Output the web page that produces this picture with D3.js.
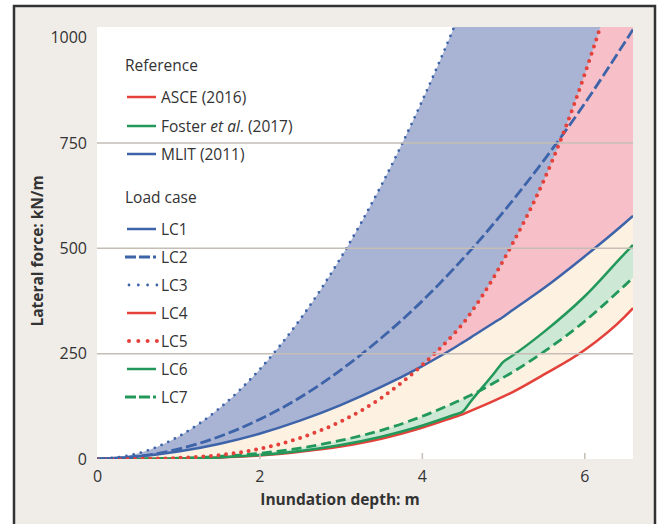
<!DOCTYPE html>
<html>
<head>
<meta charset="utf-8">
<script src="https://cdn.jsdelivr.net/npm/d3@7"></script>
<style>
  body { margin: 0; background: #fff; }
  text { font-family: 'Open Sans', 'Noto Sans', sans-serif; fill: #333; }
</style>
</head>
<body>
<div id="chart"></div>
<script>
// inundation depth (m) and lateral force (kN/m) per load case
var depth = [0, 0.5, 1, 1.5, 2, 2.5, 3, 3.5, 4, 4.4, 4.5, 4.6, 4.9, 5, 5.1, 5.5, 6, 6.5, 6.6];
var lc1 = [0, 5.7, 17.6, 35.8, 60, 91, 128, 171, 220, 264, 276, 288, 325, 337, 351, 405, 480, 560, 577];
var lc2 = [0, 5.9, 23.4, 52.7, 93.6, 146, 211, 287, 374, 453, 474, 495, 562, 585, 609, 708, 842, 989, 1019];
var lc3 = [0, 13, 53, 119, 212, 331, 477, 649, 848, 1026, 1073, 1121, 1273, 1325, 1379, 1603, 1908, 2239, 2309];
var lc4 = [0, 0.1, 0.9, 3.2, 8, 17, 29.5, 48, 74, 99.5, 106, 114, 139, 148, 157, 200, 258, 338, 358];
var lc5 = [0, 0.3, 2.5, 9, 24, 50, 89, 145, 222, 298, 320, 346, 436, 470, 505, 660, 910, 1230, 1310];
var lc6 = [0, 0.15, 1.1, 3.8, 9.3, 19, 33, 53, 79, 105, 112, 136, 206, 230, 243, 301, 385, 488, 508];
var lc7 = [0, 0.25, 1.8, 5.9, 13.5, 26, 44, 68, 101, 133.5, 142, 151, 182, 193, 204, 254, 326, 412, 430];

var xTicks = [0, 2, 4, 6];
var yTicks = [0, 250, 500, 750, 1000];
var gridValues = [250, 500, 750];

var refItems = ['ASCE (2016)', 'Foster et al. (2017)', 'MLIT (2011)'];
var caseItems = ['LC1', 'LC2', 'LC3', 'LC4', 'LC5', 'LC6', 'LC7'];

var BLUE = '#3d63a9', RED = '#e3413a', GREEN = '#22985a';

var width = 662, height = 524;
var margin = { top: 27, right: 29, bottom: 65, left: 97 };
var innerWidth = width - margin.left - margin.right,
    innerHeight = height - margin.top - margin.bottom;

var svg = d3.select('#chart').append('svg')
  .attr('width', width)
  .attr('height', height);

// panel: fill plus a border open at the bottom
svg.append('rect')
  .attr('x', 14).attr('y', 6)
  .attr('width', 641).attr('height', height - 6)
  .attr('fill', '#f0ede9');
svg.append('path')
  .attr('d', 'M14,' + height + 'V6H655V' + height)
  .attr('fill', 'none')
  .attr('stroke', '#333')
  .attr('stroke-width', 2.5);

var g = svg.append('g')
  .attr('transform', 'translate(' + margin.left + ',' + margin.top + ')');

var x = d3.scaleLinear().domain([0, 6.6]).range([0, innerWidth]);
var y = d3.scaleLinear().domain([0, 1025]).range([innerHeight, 0]);

g.append('rect')
  .attr('width', innerWidth).attr('height', innerHeight)
  .attr('fill', '#fff');

g.append('clipPath').attr('id', 'plotclip')
  .append('rect').attr('width', innerWidth).attr('height', innerHeight);

var plot = g.append('g').attr('clip-path', 'url(#plotclip)');

function rows(lo, hi) {
  return depth.map(function(d, i) { return { h: d, lo: lo[i], hi: hi[i] }; });
}

function band(lo, hi, color) {
  plot.append('path')
    .datum(rows(lo, hi))
    .attr('fill', color)
    .attr('d', d3.area()
      .curve(d3.curveMonotoneX)
      .x(function(d) { return x(d.h); })
      .y0(function(d) { return y(d.lo); })
      .y1(function(d) { return y(d.hi); }));
}

band(lc1, lc3, '#a9b3d4');
band(lc4, lc5, '#f7c0c8');
band(lc4, lc1, '#fdf1e2');
band(lc7, lc6, '#cde8d5');

// grid
g.selectAll('.grid')
  .data(gridValues)
  .enter()
  .append('line')
  .attr('class', 'grid')
  .attr('x1', 0).attr('x2', innerWidth)
  .attr('y1', function(d) { return y(d); })
  .attr('y2', function(d) { return y(d); })
  .attr('stroke', '#c6beb6')
  .attr('stroke-width', 1.5);

var series = [
  { values: lc4, color: RED, width: 2.5, dash: null, cap: 'butt' },
  { values: lc7, color: GREEN, width: 2.8, dash: '10,5', cap: 'butt' },
  { values: lc6, color: GREEN, width: 2.5, dash: null, cap: 'butt' },
  { values: lc1, color: BLUE, width: 2.5, dash: null, cap: 'butt' },
  { values: lc2, color: BLUE, width: 2.8, dash: '11,4', cap: 'butt' },
  { values: lc5, color: RED, width: 4, dash: '0,7.6', cap: 'round' },
  { values: lc3, color: BLUE, width: 2.8, dash: '0,7.4', cap: 'round' }
];

series.forEach(function(s) {
  plot.append('path')
    .datum(s.values)
    .attr('fill', 'none')
    .attr('stroke', s.color)
    .attr('stroke-width', s.width)
    .attr('stroke-dasharray', s.dash)
    .attr('stroke-linecap', s.cap)
    .attr('d', d3.line()
      .curve(d3.curveMonotoneX)
      .x(function(d, i) { return x(depth[i]); })
      .y(function(d) { return y(d); }));
});

// axes (ticks inside, no domain line)
var xAxis = g.append('g')
  .attr('transform', 'translate(0,' + innerHeight + ')')
  .call(d3.axisBottom(x).tickValues(xTicks).tickSize(-6).tickPadding(12).tickFormat(d3.format('d')));
xAxis.select('.domain').remove();
xAxis.selectAll('.tick line').attr('stroke', '#c6beb6').attr('stroke-width', 1.5)
  .filter(function(d) { return d === 0; }).remove();
xAxis.selectAll('text').attr('font-size', 16).attr('fill', '#333');

var yAxis = g.append('g')
  .call(d3.axisLeft(y).tickValues(yTicks).tickSize(0).tickPadding(10).tickFormat(d3.format('d')));
yAxis.select('.domain').remove();
yAxis.selectAll('text').attr('font-size', 16).attr('fill', '#333');

svg.append('text')
  .attr('x', 340).attr('y', 505)
  .attr('text-anchor', 'middle')
  .attr('font-size', 15.5)
  .attr('font-weight', 'bold')
  .text('Inundation depth: m');

svg.append('text')
  .attr('transform', 'translate(43,251) rotate(-90)')
  .attr('text-anchor', 'middle')
  .attr('font-size', 15.5)
  .attr('font-weight', 'bold')
  .text('Lateral force: kN/m');

// legend
var legend = svg.append('g');
legend.append('text').attr('x', 125).attr('y', 71).attr('font-size', 15.5).text('Reference');
legend.append('text').attr('x', 125).attr('y', 203).attr('font-size', 15.5).text('Load case');

var refColors = [RED, GREEN, BLUE];
var refY = [97, 126, 154];

refItems.forEach(function(label, i) {
  legend.append('line')
    .attr('x1', 127).attr('x2', 156)
    .attr('y1', refY[i]).attr('y2', refY[i])
    .attr('stroke', refColors[i]).attr('stroke-width', 2.5);
  var t = legend.append('text').attr('x', 161).attr('y', refY[i] + 5.5).attr('font-size', 15.5);
  if (label.indexOf('et al.') >= 0) {
    t.append('tspan').text('Foster ');
    t.append('tspan').attr('font-style', 'italic').text('et al');
    t.append('tspan').text('. (2017)');
  } else {
    t.text(label);
  }
});

var caseY = d3.scalePoint().domain(caseItems).range([229, 397]);
var caseStyle = [series[3], series[4], series[6], series[0], series[5], series[2], series[1]];

caseItems.forEach(function(label, i) {
  var s = caseStyle[i];
  var yy = caseY(label);
  var dots = s.cap === 'round';
  legend.append('line')
    .attr('x1', dots ? 129 : (s.dash ? 125 : 127)).attr('x2', dots ? 157 : 156)
    .attr('y1', yy).attr('y2', yy)
    .attr('stroke', s.color)
    .attr('stroke-width', s.width)
    .attr('stroke-dasharray', dots ? '0,9.3' : (s.dash ? '11,3' : null))
    .attr('stroke-linecap', s.cap);
  legend.append('text').attr('x', 161).attr('y', yy + 5.5).attr('font-size', 15.5).text(label);
});
</script>
</body>
</html>
